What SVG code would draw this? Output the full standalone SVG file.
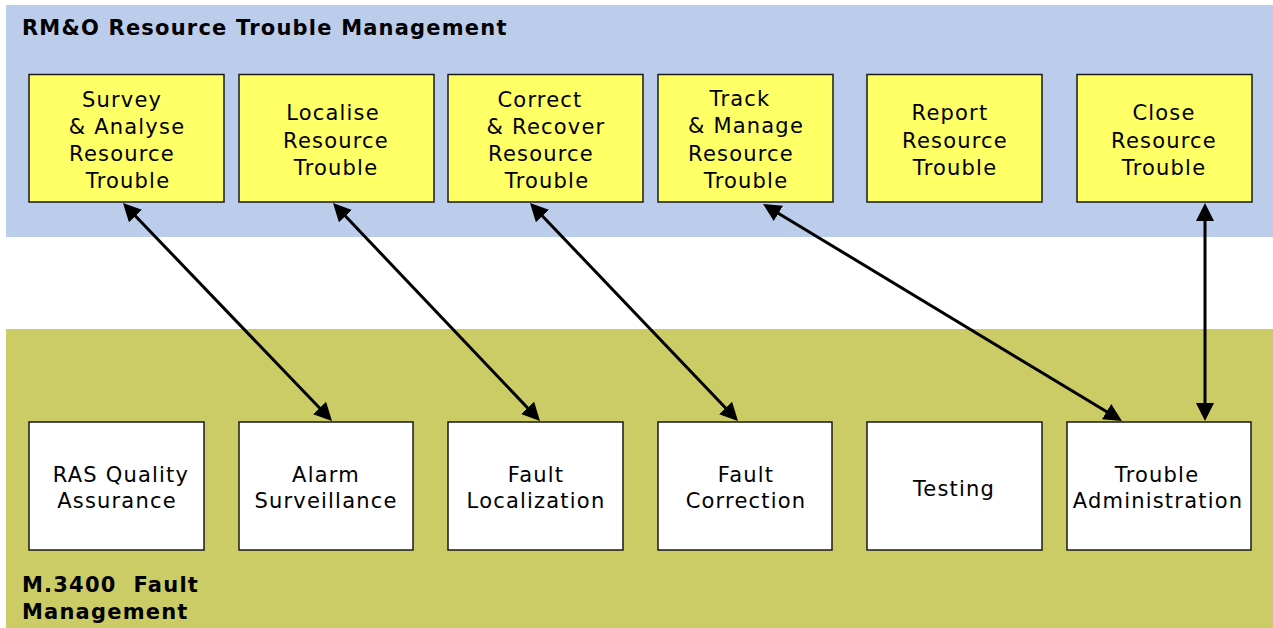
<svg xmlns="http://www.w3.org/2000/svg" width="1273" height="628" viewBox="0 0 1273 628">
<style>
.band-top{fill:#BCCDEC}
.band-bot{fill:#CCCC66}
.yb{fill:#FFFF66;stroke:#1a1a1a;stroke-width:1.5}
.wb{fill:#FFFFFF;stroke:#1a1a1a;stroke-width:1.5}
.t{font-family:"DejaVu Sans","Verdana",sans-serif;font-size:21px;letter-spacing:1.2px;fill:#000;text-anchor:middle}
.h{font-family:"DejaVu Sans","Verdana",sans-serif;font-size:21px;font-weight:bold;letter-spacing:1.2px;fill:#000}
.c{stroke:#000;stroke-width:3;fill:none;marker-start:url(#ah);marker-end:url(#ah)}
</style>
<defs>
<marker id="ah" markerUnits="userSpaceOnUse" viewBox="0 0 18 18" markerWidth="18" markerHeight="18" refX="8" refY="9" orient="auto-start-reverse">
<path d="M0,0 L18,9 L0,18 z" fill="#000"/>
</marker>
</defs>
<rect width="1273" height="628" fill="#FFFFFF"/>
<g id="rmo-band">
<rect class="band-top" x="6" y="5" width="1267" height="232"/>
<text class="h" x="22" y="35">RM&amp;O Resource Trouble Management</text>
</g>
<g id="m3400-band">
<rect class="band-bot" x="6" y="329" width="1267" height="299"/>
<text class="h" x="22" y="592">M.3400&#160; Fault</text>
<text class="h" x="22" y="619">Management</text>
</g>
<g id="survey">
<rect class="yb" x="29" y="74.5" width="195" height="127.5"/>
<text class="t" x="122" y="107">Survey</text>
<text class="t" x="127" y="134">&amp; Analyse</text>
<text class="t" x="122" y="161">Resource</text>
<text class="t" x="128" y="188">Trouble</text>
</g>
<g id="localise">
<rect class="yb" x="239" y="74.5" width="195" height="127.5"/>
<text class="t" x="333" y="120">Localise</text>
<text class="t" x="336" y="148">Resource</text>
<text class="t" x="336" y="175">Trouble</text>
</g>
<g id="correct">
<rect class="yb" x="448" y="74.5" width="195" height="127.5"/>
<text class="t" x="540" y="107">Correct</text>
<text class="t" x="546" y="134">&amp; Recover</text>
<text class="t" x="541" y="161">Resource</text>
<text class="t" x="547" y="188">Trouble</text>
</g>
<g id="track">
<rect class="yb" x="658" y="74.5" width="175" height="127.5"/>
<text class="t" x="740" y="106">Track</text>
<text class="t" x="746" y="133">&amp; Manage</text>
<text class="t" x="741" y="161">Resource</text>
<text class="t" x="746" y="188">Trouble</text>
</g>
<g id="report">
<rect class="yb" x="867" y="74.5" width="175" height="127.5"/>
<text class="t" x="950" y="120">Report</text>
<text class="t" x="955" y="148">Resource</text>
<text class="t" x="955" y="175">Trouble</text>
</g>
<g id="close">
<rect class="yb" x="1077" y="74.5" width="175" height="127.5"/>
<text class="t" x="1164" y="120">Close</text>
<text class="t" x="1164" y="148">Resource</text>
<text class="t" x="1164" y="175">Trouble</text>
</g>
<g id="ras">
<rect class="wb" x="29" y="422" width="175" height="128"/>
<text class="t" x="121" y="482">RAS Quality</text>
<text class="t" x="117" y="508">Assurance</text>
</g>
<g id="alarm">
<rect class="wb" x="239" y="422" width="174" height="128"/>
<text class="t" x="326" y="482">Alarm</text>
<text class="t" x="326" y="508">Surveillance</text>
</g>
<g id="fault-loc">
<rect class="wb" x="448" y="422" width="175" height="128"/>
<text class="t" x="536" y="482">Fault</text>
<text class="t" x="536" y="508">Localization</text>
</g>
<g id="fault-corr">
<rect class="wb" x="658" y="422" width="174" height="128"/>
<text class="t" x="746" y="482">Fault</text>
<text class="t" x="746" y="508">Correction</text>
</g>
<g id="testing">
<rect class="wb" x="867" y="422" width="175" height="128"/>
<text class="t" x="954" y="496">Testing</text>
</g>
<g id="trouble-admin">
<rect class="wb" x="1067" y="422" width="184" height="128"/>
<text class="t" x="1157" y="482">Trouble</text>
<text class="t" x="1158" y="508">Administration</text>
</g>
<g id="connectors">
<line class="c" x1="129.9" y1="210.2" x2="325.1" y2="413.8"/>
<line class="c" x1="339.9" y1="210.3" x2="533.1" y2="413.7"/>
<line class="c" x1="536.9" y1="210.2" x2="731.1" y2="413.8"/>
<line class="c" x1="771.6" y1="209.2" x2="1113.4" y2="415.8"/>
<line class="c" x1="1205" y1="213" x2="1205" y2="411"/>
</g>
</svg>
